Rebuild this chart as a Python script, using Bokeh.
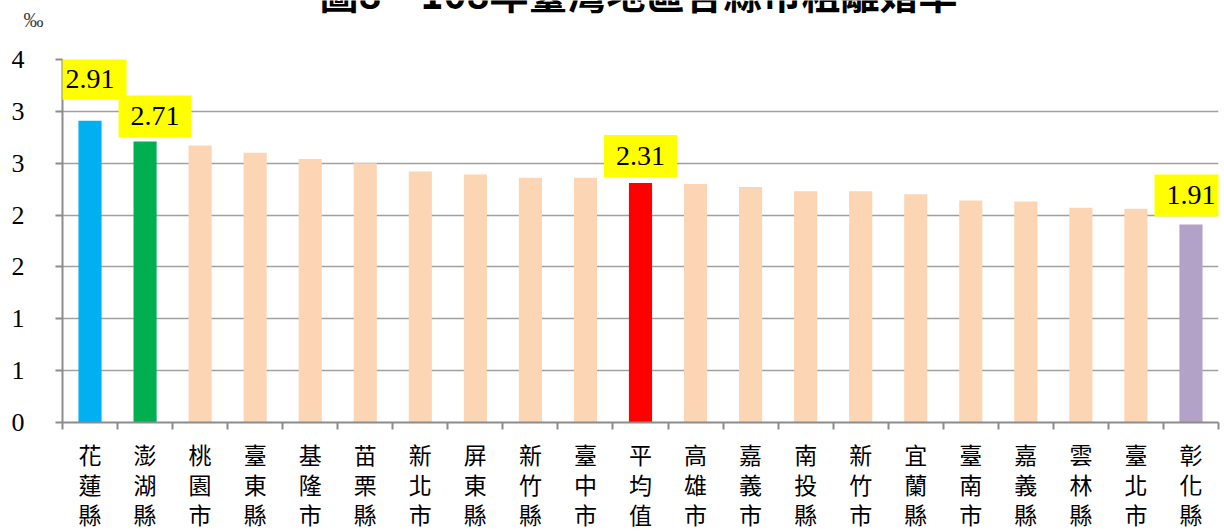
from bokeh.plotting import figure
from bokeh.layouts import column
from bokeh.models import Range1d, FixedTicker, Label
from bokeh.core.properties import value
from bokeh.embed import file_html
from bokeh.resources import INLINE

# ---- data ----
counties = ["花蓮縣", "澎湖縣", "桃園市", "臺東縣", "基隆市", "苗栗縣", "新北市",
            "屏東縣", "新竹縣", "臺中市", "平均值", "高雄市", "嘉義市", "南投縣",
            "新竹市", "宜蘭縣", "臺南市", "嘉義縣", "雲林縣", "臺北市", "彰化縣"]
rates = [2.91, 2.71, 2.67, 2.60, 2.54, 2.50, 2.42, 2.39, 2.36, 2.36, 2.31,
         2.30, 2.27, 2.23, 2.23, 2.20, 2.14, 2.13, 2.07, 2.06, 1.91]
labeled = ["花蓮縣", "澎湖縣", "平均值", "彰化縣"]
y_ticks = [0, 0.5, 1, 1.5, 2, 2.5, 3, 3.5]
y_tick_labels = ["0", "1", "1", "2", "2", "3", "3", "4"]
title_text = "圖8\u3000108年臺灣地區各縣市粗離婚率"
unit_text = "‰"

# ---- styles ----
special_colors = {"花蓮縣": "#00B0F0", "澎湖縣": "#00B050", "平均值": "#FF0000", "彰化縣": "#B3A2C7"}
default_color = "#FCD5B5"
label_offsets = {"花蓮縣": (0, 21), "澎湖縣": (10, 4), "平均值": (0, 6), "彰化縣": (0, 8)}

W, H = 1224, 531
HEAD = 40                     # header strip holding the (cropped) title and unit
BL, BR, BT, BB = 62, 6, 19, 107
n = len(counties)
centers = [i + 0.5 for i in range(n)]
colors = [special_colors.get(c, default_color) for c in counties]

# ---- header strip (title is cropped at the top, as in the source picture) ----
# its frame is aligned with the main chart's frame, so x data == page pixels
head = figure(width=W, height=HEAD, output_backend="svg", toolbar_location=None,
              x_range=Range1d(BL, W - BR), y_range=Range1d(0, HEAD),
              x_axis_type=None,
              min_border_left=BL, min_border_right=BR, min_border_top=0, min_border_bottom=0)
head.outline_line_color = None
head.xgrid.grid_line_color = None
head.ygrid.grid_line_color = None
head.text(x=[638], y=[HEAD + 9], text=[title_text], text_align="center",
          text_baseline="alphabetic", text_font=value("Noto Sans CJK TC"),
          text_font_style="bold", text_font_size="39px", text_color="black")
# unit sign as the header's only left-axis label
hy = head.yaxis[0]
hy.ticker = FixedTicker(ticks=[HEAD - 19], minor_ticks=[])
hy.major_label_overrides = {HEAD - 19: unit_text}
hy.axis_line_color = None
hy.major_tick_line_color = None
hy.major_tick_out = 0
hy.major_tick_in = 0
hy.major_label_standoff = 19
hy.major_label_text_font = "Liberation Serif"
hy.major_label_text_font_size = "20px"
hy.major_label_text_color = "#404040"

# ---- main chart ----
p = figure(width=W, height=H - HEAD, output_backend="svg", toolbar_location=None,
           x_range=Range1d(0, n), y_range=Range1d(0, 3.5),
           min_border_left=BL, min_border_right=BR, min_border_top=BT, min_border_bottom=BB)
p.outline_line_color = None
p.background_fill_color = "white"
p.border_fill_color = "white"

p.vbar(x=centers, top=rates, width=0.42, fill_color=colors, line_color=None)

cjk_font = "'Liberation Serif', 'Noto Sans CJK TC'"

# x axis
xa = p.xaxis[0]
xa.ticker = FixedTicker(ticks=centers, minor_ticks=list(range(n + 1)))
xa.major_label_overrides = {c: "\n".join(list(name)) for c, name in zip(centers, counties)}
xa.major_tick_out = 0
xa.major_tick_in = 0
xa.minor_tick_out = 7
xa.minor_tick_in = 0
xa.minor_tick_line_color = "#8c8c8c"
xa.minor_tick_line_width = 2
xa.axis_line_color = "#8c8c8c"
xa.axis_line_width = 2
xa.major_label_standoff = 14
xa.major_label_text_font = cjk_font
xa.major_label_text_font_size = "23px"
xa.major_label_text_color = "black"

# y axis
ya = p.yaxis[0]
ya.ticker = FixedTicker(ticks=y_ticks, minor_ticks=[])
ya.major_label_overrides = {t: l for t, l in zip(y_ticks, y_tick_labels)}
ya.major_tick_out = 7
ya.major_tick_in = 0
ya.major_tick_line_color = "#8c8c8c"
ya.major_tick_line_width = 2
ya.axis_line_color = "#8c8c8c"
ya.axis_line_width = 2
ya.major_label_standoff = 31
ya.major_label_text_font = "Liberation Serif"
ya.major_label_text_font_size = "26px"
ya.major_label_text_color = "black"

p.xgrid.grid_line_color = None
p.ygrid.ticker = FixedTicker(ticks=y_ticks)
p.ygrid.grid_line_color = "#a0a0a0"
p.ygrid.grid_line_width = 1.5

# data labels
for c, v, x in zip(counties, rates, centers):
    if c in labeled:
        dx, dy = label_offsets[c]
        p.add_layout(Label(x=x, y=v, text=f"{v:.2f}", x_offset=dx, y_offset=dy,
                           text_align="center", text_baseline="bottom",
                           text_font="Liberation Serif", text_font_size="28px",
                           text_color="black", background_fill_color="#FFFF00",
                           padding=12))

layout = column(head, p, spacing=0)
open("out.html", "w").write(file_html(layout, INLINE))
